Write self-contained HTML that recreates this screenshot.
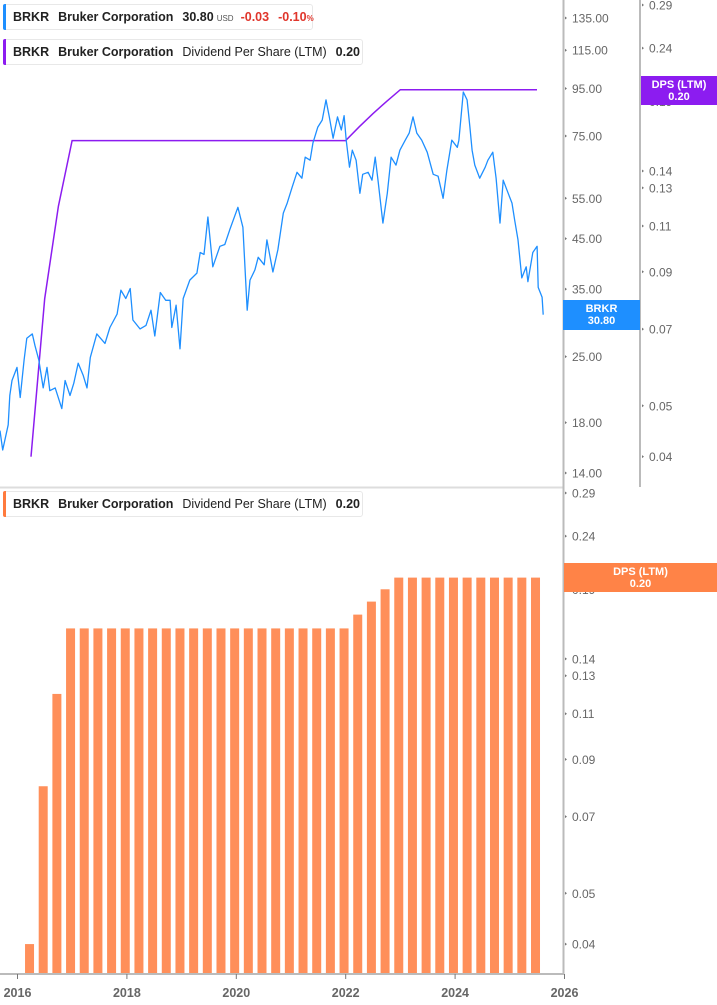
<!DOCTYPE html>
<html><head><meta charset="utf-8">
<style>
html,body{margin:0;padding:0;background:#fff;}
body{width:717px;height:1005px;overflow:hidden;position:relative;font-family:"Liberation Sans",sans-serif;}
svg{position:absolute;left:0;top:0;}
.legend{position:absolute;left:3px;height:26px;background:#fff;border:1px solid #e8e8e8;border-radius:3px;box-sizing:border-box;font-size:12.5px;line-height:24px;color:#222;padding-left:9px;white-space:nowrap;}
.legend b{font-weight:bold;margin-right:9px;}
.legend .bar{position:absolute;left:-1px;top:-1px;bottom:-1px;width:3px;border-radius:2px 0 0 2px;}
.legend span{margin-right:9px;}
</style></head>
<body>
<svg id="chart" width="717" height="1005"></svg>

<div class="legend" style="top:4px;width:310px;">
  <div class="bar" style="background:#1e8fff"></div>
  <b>BRKR</b><b>Bruker Corporation</b><b style="margin-right:3px">30.80</b><span style="font-size:8px;color:#555;margin-right:7px">USD</span><b style="color:#e0352b">-0.03</b><b style="color:#e0352b">-0.10<span style="font-size:8px">%</span></b>
</div>
<div class="legend" style="top:39px;width:360px;">
  <div class="bar" style="background:#8c1cf0"></div>
  <b>BRKR</b><b>Bruker Corporation</b><span>Dividend Per Share (LTM)</span><b>0.20</b>
</div>
<div class="legend" style="top:491px;width:360px;">
  <div class="bar" style="background:#ff7a3d"></div>
  <b>BRKR</b><b>Bruker Corporation</b><span>Dividend Per Share (LTM)</span><b>0.20</b>
</div>

<script>
const priceDates=[2015.68,2015.73,2015.83,2015.86,2015.90,2015.99,2016.05,2016.12,2016.17,2016.27,2016.32,2016.39,2016.47,2016.54,2016.59,2016.69,2016.81,2016.87,2016.96,2017.03,2017.11,2017.20,2017.27,2017.33,2017.45,2017.60,2017.69,2017.82,2017.89,2017.98,2018.06,2018.11,2018.24,2018.35,2018.44,2018.51,2018.61,2018.71,2018.79,2018.82,2018.90,2018.97,2019.03,2019.15,2019.28,2019.34,2019.41,2019.48,2019.57,2019.70,2019.79,2019.88,2020.03,2020.12,2020.20,2020.25,2020.34,2020.40,2020.51,2020.56,2020.67,2020.76,2020.86,2020.93,2021.02,2021.11,2021.20,2021.26,2021.35,2021.40,2021.49,2021.57,2021.64,2021.70,2021.77,2021.85,2021.92,2021.97,2022.01,2022.07,2022.12,2022.19,2022.26,2022.31,2022.41,2022.48,2022.54,2022.59,2022.68,2022.76,2022.83,2022.92,2022.99,2023.09,2023.16,2023.23,2023.30,2023.39,2023.49,2023.60,2023.69,2023.78,2023.85,2023.94,2024.04,2024.07,2024.15,2024.22,2024.27,2024.31,2024.36,2024.45,2024.55,2024.60,2024.69,2024.75,2024.82,2024.88,2024.97,2025.04,2025.09,2025.15,2025.22,2025.30,2025.33,2025.42,2025.50,2025.52,2025.59,2025.61];
const priceValues=[17.3,15.7,17.8,20.6,22.2,23.7,20.4,24.6,27.4,28.0,26.4,24.6,21.4,23.7,21.1,21.4,19.3,22.2,20.6,21.9,24.2,22.8,21.4,24.9,28.0,26.7,28.9,30.9,34.8,33.4,35.1,30.0,28.7,29.2,31.5,27.7,34.4,33.1,33.1,28.9,32.3,26.0,33.4,36.6,37.9,42.0,41.6,50.1,39.1,43.3,43.7,47.0,52.6,47.6,31.5,36.6,38.5,41.0,39.5,44.7,38.1,42.6,51.1,53.7,58.1,62.6,60.8,67.5,66.5,72.4,78.4,81.2,89.8,82.5,74.2,82.5,77.3,83.0,73.5,64.2,69.9,66.5,56.4,62.0,62.6,60.2,67.5,60.2,48.6,56.4,67.5,64.9,69.9,73.5,76.1,82.5,76.1,73.5,69.2,62.0,61.4,55.0,63.3,73.5,70.9,73.5,93.4,89.8,78.4,69.9,64.9,60.8,64.2,66.5,69.2,60.8,48.6,60.2,56.4,53.7,49.3,44.7,37.0,39.1,36.3,42.0,43.3,35.3,33.6,30.8];
const dpsValues=[0.04,0.08,0.12,0.16,0.16,0.16,0.16,0.16,0.16,0.16,0.16,0.16,0.16,0.16,0.16,0.16,0.16,0.16,0.16,0.16,0.16,0.16,0.16,0.16,0.17,0.18,0.19,0.20,0.20,0.20,0.20,0.20,0.20,0.20,0.20,0.20,0.20,0.20];
const dpsStart=2016.22;
const yearTicks=[2016,2018,2020,2022,2024,2026];
const priceTicks=[135,115,95,75,55,45,35,25,18,14];
const dpsTicks=[0.29,0.24,0.19,0.14,0.13,0.11,0.09,0.07,0.05,0.04];

const NS="http://www.w3.org/2000/svg";
const svg=document.getElementById('chart');
function mk(tag,attrs,parent){const e=document.createElementNS(NS,tag);for(const k in attrs)e.setAttribute(k,attrs[k]);(parent||svg).appendChild(e);return e;}
const xOf=yr=>17.5+(yr-2016)*54.7;
const yPrice=p=>18+(Math.log(135)-Math.log(p))*200.8;
const yDpsTop=v=>5+(Math.log(0.29)-Math.log(v))*228;
const yDpsBot=v=>493+(Math.log(0.29)-Math.log(v))*227.7;
const dpsDate=i=>dpsStart+i*0.25;

// separators & axes
let e;
e=mk('line',{x1:0,y1:487.5,x2:563,y2:487.5,stroke:'#ddd','stroke-width':2});


e=mk('line',{x1:563.5,y1:0,x2:563.5,y2:975,stroke:'#bbb','stroke-width':2});


e=mk('line',{x1:640,y1:0,x2:640,y2:487,stroke:'#bbb','stroke-width':2});


e=mk('line',{x1:0,y1:974,x2:564,y2:974,stroke:'#bbb','stroke-width':2});



// price ticks
priceTicks.forEach(t=>{const y=yPrice(t);
 e=mk('path',{d:`M565 ${y-1.5}L567 ${y}L565 ${y+1.5}Z`,fill:'#777'});
 
 
 e=mk('text',{x:572,y:y+4.5,'font-size':12,fill:'#666','font-family':'Liberation Sans'});e.textContent=t.toFixed(2);
 
 
});
// dps ticks top
dpsTicks.forEach(t=>{const y=yDpsTop(t);
 e=mk('path',{d:`M642 ${y-1.5}L644 ${y}L642 ${y+1.5}Z`,fill:'#777'});
 
 
 e=mk('text',{x:649,y:y+4.5,'font-size':12,fill:'#666','font-family':'Liberation Sans'});e.textContent=t.toFixed(2);
 
 
});
// dps ticks bottom
dpsTicks.forEach(t=>{const y=yDpsBot(t);
 e=mk('path',{d:`M565 ${y-1.5}L567 ${y}L565 ${y+1.5}Z`,fill:'#777'});
 
 
 e=mk('text',{x:572,y:y+4.5,'font-size':12,fill:'#666','font-family':'Liberation Sans'});e.textContent=t.toFixed(2);
 
 
});
// year ticks
yearTicks.forEach(t=>{const x=xOf(t);
 e=mk('line',{x1:x,y1:974,x2:x,y2:979,stroke:'#777','stroke-width':1});
 
 
 e=mk('text',{x:x,y:997,'font-size':12.5,'font-weight':'bold',fill:'#666','text-anchor':'middle','font-family':'Liberation Sans'});e.textContent=t;
 
 
});

// bars
dpsValues.forEach((v,i)=>{const x=xOf(dpsDate(i));const y=yDpsBot(v);
 e=mk('rect',{x:x-4.5,y:y,width:9,height:973-y,fill:'#ff8f5a'});
 
 
});

// dps line
let d='';dpsValues.forEach((v,i)=>{d+=(i?'L':'M')+(xOf(dpsDate(i))+1.5).toFixed(1)+' '+yDpsTop(v).toFixed(1);});
e=mk('path',{d:d,fill:'none',stroke:'#8c1cf0','stroke-width':1.5});



// price line
d='';priceDates.forEach((t,i)=>{d+=(i?'L':'M')+xOf(t).toFixed(1)+' '+yPrice(priceValues[i]).toFixed(1);});
e=mk('path',{d:d,fill:'none',stroke:'#1e8fff','stroke-width':1.3,'stroke-linejoin':'round'});



// value labels
function badge(x,y,w,h,fill,l1,l2,name){
 const g=mk('g',{});
 
 
 mk('rect',{x:x,y:y,width:w,height:h,fill:fill},g);
 const t1=mk('text',{x:x+w/2,y:y+12,'font-size':11,'font-weight':'bold',fill:'#fff','text-anchor':'middle','font-family':'Liberation Sans'},g);t1.textContent=l1;
 const t2=mk('text',{x:x+w/2,y:y+24,'font-size':11,'font-weight':'bold',fill:'#fff','text-anchor':'middle','font-family':'Liberation Sans'},g);t2.textContent=l2;
}
badge(563,300,77,30,'#1e8fff','BRKR','30.80','price-value-badge');
badge(641,76,76,29,'#8c1cf0','DPS (LTM)','0.20','dps-line-value-badge');
badge(564,563,153,29,'#ff8347','DPS (LTM)','0.20','dps-bar-value-badge');
</script>
</body></html>
